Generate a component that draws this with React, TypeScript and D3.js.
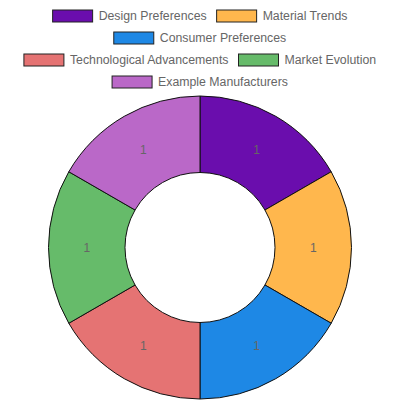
import { useEffect, useRef } from "react";
import * as d3 from "d3";

const categories = [
  "Design Preferences",
  "Material Trends",
  "Consumer Preferences",
  "Technological Advancements",
  "Market Evolution",
  "Example Manufacturers",
];
const values = [1, 1, 1, 1, 1, 1];
const colors = ["#6a0dad", "#ffb74d", "#1e88e5", "#e57373", "#66bb6a", "#ba68c8"];

const W = 400;
const H = 400;
const FONT = "Liberation Sans, Arial, sans-serif";

export default function App() {
  const svgRef = useRef<SVGSVGElement>(null);

  useEffect(() => {
    const svg = d3.select(svgRef.current);
    svg.selectAll("*").remove();

    // legend: flow layout, centered rows
    const legend = svg.append("g");
    const boxW = 40, boxH = 12, gap = 6, itemPad = 10, rowH = 22, maxW = W - 20;
    const items = categories.map((c, i) => {
      const g = legend.append("g");
      g.append("rect").attr("width", boxW).attr("height", boxH)
        .attr("fill", colors[i]).attr("stroke", "#222").attr("stroke-width", 1);
      const t = g.append("text").attr("x", boxW + gap).attr("y", boxH / 2)
        .attr("dy", "0.35em").attr("font-family", FONT).attr("font-size", 12.3)
        .attr("fill", "#666").text(c);
      const tw = (t.node() as SVGTextElement).getComputedTextLength();
      return { g, w: boxW + gap + tw };
    });
    const rows: { g: any; w: number }[][] = [[]];
    let cur = 0;
    items.forEach((it) => {
      const add = (rows[rows.length - 1].length ? itemPad : 0) + it.w;
      if (cur + add > maxW && rows[rows.length - 1].length) {
        rows.push([it]);
        cur = it.w;
      } else {
        rows[rows.length - 1].push(it);
        cur += add;
      }
    });
    rows.forEach((row, r) => {
      const total = d3.sum(row, (d) => d.w) + itemPad * (row.length - 1);
      let x = (W - total) / 2;
      const y = 10 + r * rowH;
      row.forEach((it) => {
        it.g.attr("transform", `translate(${x},${y})`);
        x += it.w + itemPad;
      });
    });

    // donut
    const cx = 200, cy = 247.5, outerR = 151.5, innerR = 75;
    const pie = d3.pie<number>().sort(null).value((d) => d);
    const arc = d3.arc<d3.PieArcDatum<number>>().innerRadius(innerR).outerRadius(outerR);
    const labelArc = d3.arc<d3.PieArcDatum<number>>()
      .innerRadius((innerR + outerR) / 2).outerRadius((innerR + outerR) / 2);
    const g = svg.append("g").attr("transform", `translate(${cx},${cy})`);
    const arcs = pie(values);
    g.selectAll("path").data(arcs).join("path")
      .attr("d", arc)
      .attr("fill", (_, i) => colors[i])
      .attr("stroke", "#111")
      .attr("stroke-width", 1);
    g.selectAll("text").data(arcs).join("text")
      .attr("transform", (d) => `translate(${labelArc.centroid(d)})`)
      .attr("text-anchor", "middle")
      .attr("dy", "0.35em")
      .attr("font-family", FONT)
      .attr("font-size", 12)
      .attr("fill", "#666")
      .text((d) => String(d.data));
  }, []);

  return (
    <svg
      ref={svgRef}
      width={W}
      height={H}
      style={{ position: "absolute", left: 0, top: 0, background: "#fff" }}
    />
  );
}
